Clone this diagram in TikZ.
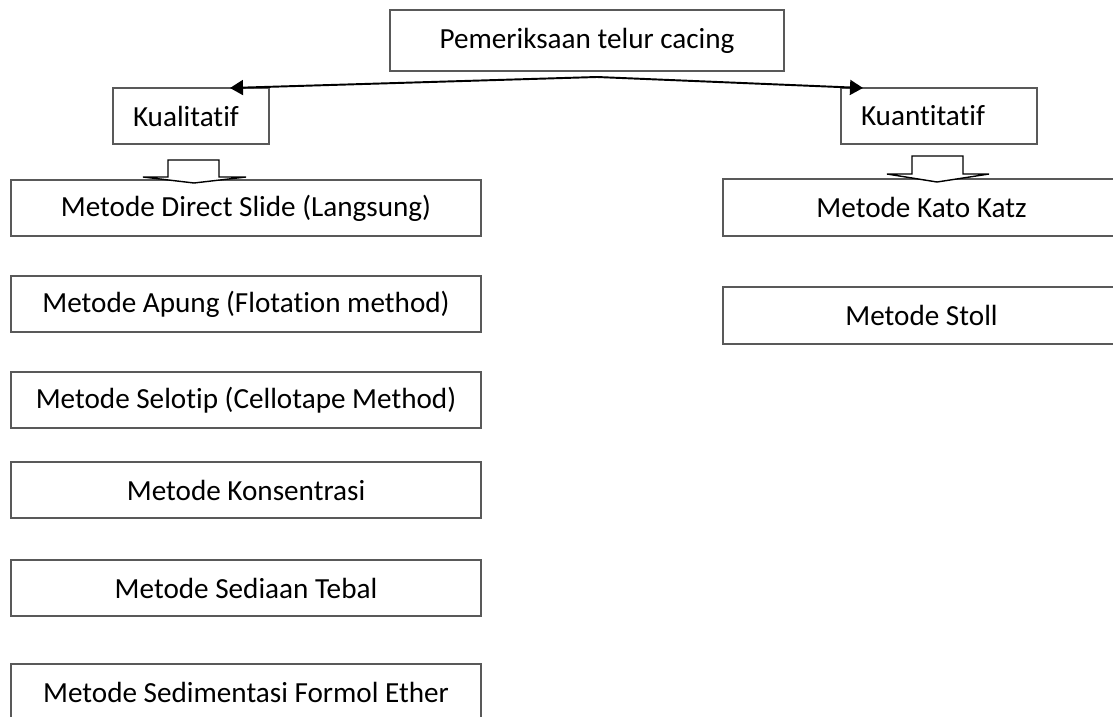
\documentclass[tikz,border=0pt]{standalone}
\usepackage{fontspec}
\setmainfont{Carlito}[Ligatures=CommonOff]
\usetikzlibrary{arrows.meta}

\begin{document}
\begin{tikzpicture}[
    head/.style={rectangle, draw=black!65, line width=0.6pt, minimum width=7.88cm, minimum height=1.22cm, text centered},
    group/.style={rectangle, draw=black!65, line width=0.6pt, minimum height=1.12cm, inner xsep=0.4cm, align=left},
    method/.style={rectangle, draw=black!65, line width=0.6pt, minimum width=9.4cm, minimum height=1.12cm, text centered},
    other/.style={rectangle, draw=black!65, line width=0.6pt, minimum width=7.94cm, minimum height=1.14cm, text centered},
    link/.style={-{Triangle[length=0.26cm, width=0.3cm]}, line width=1.1pt},
    fat/.style={draw=black, line width=0.8pt, fill=white}
]
\fontsize{16.6}{20}\selectfont

\useasboundingbox (0,0) rectangle (22.26,-14.32);
\clip (0,0) rectangle (22.26,-14.32);

% Top
\node[head] (top) at (11.74,-0.81) {Pemeriksaan telur cacing};

% Groups
\node[group, text width=2.32cm] (kual) at (3.82,-2.32) {Kualitatif};
\node[group, text width=3.12cm] (kuan) at (18.78,-2.32) {Kuantitatif};

% Kualitatif methods
\node[method] (direct) at (4.92,-4.16) {Metode Direct Slide (Langsung)};
\node[method] (apung) at (4.92,-6.08) {Metode Apung (Flotation method)};
\node[method] (selotip) at (4.92,-8.00) {Metode Selotip (Cellotape Method)};
\node[method] (konsen) at (4.92,-9.80) {Metode Konsentrasi};
\node[method] (tebal) at (4.92,-11.76) {Metode Sediaan Tebal};
\node[method] (sedimen) at (4.92,-13.84) {Metode Sedimentasi Formol Ether};

% Kuantitatif methods
\node[other] (kato) at (18.43,-4.15) {Metode Kato Katz};
\node[other] (stoll) at (18.43,-6.31) {Metode Stoll};

% Arrows
\coordinate (split) at (11.94,-1.54);
\coordinate (kualin) at (4.60,-1.76);
\coordinate (kuanin) at (17.26,-1.76);
\draw[link] (split) -- (kualin);
\draw[link] (split) -- (kuanin);

% Block arrows
\draw[fat] (3.36,-3.20) -- (4.38,-3.20) -- (4.38,-3.54) -- (4.92,-3.54) -- (3.88,-3.66) -- (2.86,-3.54) -- (3.36,-3.54) -- cycle;
\draw[fat] (18.24,-3.12) -- (19.26,-3.12) -- (19.26,-3.48) -- (19.78,-3.48) -- (18.74,-3.64) -- (17.74,-3.48) -- (18.24,-3.48) -- cycle;

\end{tikzpicture}
\end{document}
